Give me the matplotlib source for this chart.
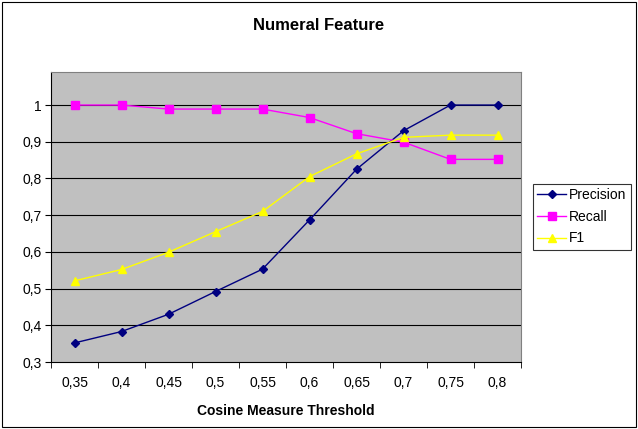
import matplotlib
matplotlib.use("Agg")
import matplotlib.pyplot as plt
from matplotlib.patches import Rectangle
import numpy as np

plt.rcParams['font.family'] = ['Liberation Sans', 'DejaVu Sans']

thresholds = ["0,35", "0,4", "0,45", "0,5", "0,55", "0,6", "0,65", "0,7", "0,75", "0,8"]
precision = [0.352, 0.383, 0.430, 0.492, 0.553, 0.687, 0.825, 0.930, 1.0, 1.0]
recall = [1.0, 1.0, 0.989, 0.989, 0.989, 0.966, 0.922, 0.899, 0.852, 0.852]
f1 = [0.521, 0.552, 0.599, 0.655, 0.710, 0.805, 0.867, 0.912, 0.918, 0.918]
yticks = [0.3, 0.4, 0.5, 0.6, 0.7, 0.8, 0.9, 1.0]
ytick_labels = ["0,3", "0,4", "0,5", "0,6", "0,7", "0,8", "0,9", "1"]

W, H = 638, 429
fig = plt.figure(figsize=(W / 100, H / 100), dpi=100)
fig.patch.set_facecolor('white')
fig.patches.append(Rectangle((2 / W, 2 / H), 1 - 4 / W, 1 - 4 / H, transform=fig.transFigure,
                             fill=False, edgecolor='black', linewidth=0.8))

left, right, top, bottom = 51, 521, 72, 362
ax = fig.add_axes([left / W, 1 - bottom / H, (right - left) / W, (bottom - top) / H])
ax.set_facecolor('#C0C0C0')

x = np.arange(len(thresholds))
ax.plot(x, precision, color='#000080', marker='D', markersize=4.5, linewidth=1, label='Precision')
ax.plot(x, recall, color='#FF00FF', marker='s', markersize=6, linewidth=1, label='Recall')
ax.plot(x, f1, color='#FFFF00', marker='^', markersize=6, linewidth=1, label='F1')

ax.set_xlim(-0.5, len(thresholds) - 0.5)
ax.set_ylim(0.3, 1.09)
ax.set_yticks(yticks)
ax.set_yticklabels(ytick_labels, fontsize=10)
for yv in yticks[1:]:
    ax.axhline(yv, color='black', linewidth=0.8, zorder=1)

ax.set_xticks(x)
ax.set_xticklabels(thresholds, fontsize=10)
ax.set_xticks(np.arange(-0.5, len(thresholds)), minor=True)
ax.tick_params(axis='x', which='major', length=0, pad=10)
ax.tick_params(axis='x', which='minor', length=4, direction='out', color='black')
ax.tick_params(axis='y', length=4, direction='out', color='black', pad=3)

for s in ['top', 'right']:
    ax.spines[s].set_color('#808080')
for s in ['left', 'bottom']:
    ax.spines[s].set_color('black')
for s in ax.spines.values():
    s.set_linewidth(0.8)

ax.set_xlabel("Cosine Measure Threshold", fontsize=10, fontweight='bold', labelpad=10)
fig.text((252 + 385) / 2 / W, 1 - 25 / H, "Numeral Feature", fontsize=12, fontweight='bold',
         ha='center', va='center')

leg = fig.legend(loc='upper left', bbox_to_anchor=(533 / W, 1 - 184 / H), fontsize=10,
                 frameon=True, fancybox=False, edgecolor='black', borderpad=0.3,
                 handlelength=2.1, labelspacing=0.55, handletextpad=0.2, borderaxespad=0)
leg.get_frame().set_linewidth(0.8)

fig.savefig('out.png', dpi=100)
